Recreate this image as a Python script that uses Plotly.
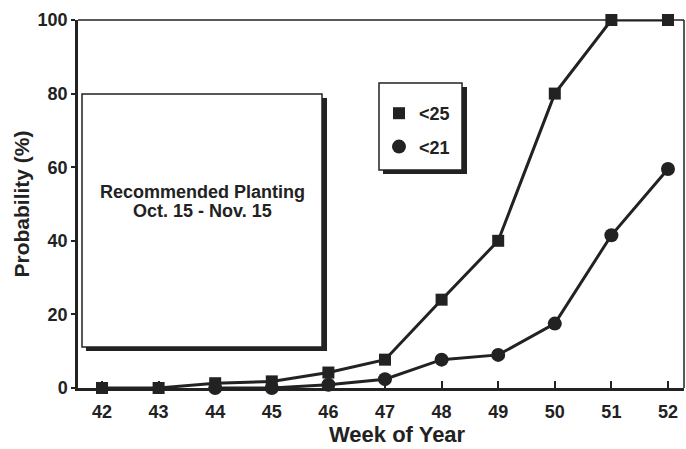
import plotly.graph_objects as go

weeks = [42, 43, 44, 45, 46, 47, 48, 49, 50, 51, 52]
prob_lt25 = [0, 0, 1.3, 1.8, 4.2, 7.7, 24, 40, 80, 100, 100]
prob_lt21 = [None, None, 0, 0, 0.9, 2.4, 7.7, 9, 17.5, 41.5, 59.5]
series_names = ["<25", "<21"]
y_ticks = [0, 20, 40, 60, 80, 100]
x_ticks = weeks

INK = "#222222"
FONT = "Liberation Sans, Arial, sans-serif"

# layout geometry (pixels of the 686x449 canvas)
W, H = 686, 449
L, R, T, B = 78, 2, 20, 61
PW, PH = W - L - R, H - T - B


def px(x):
    return (x - L) / PW


def py(y):
    return (H - B - y) / PH


fig = go.Figure()

fig.add_trace(go.Scatter(
    x=weeks, y=prob_lt25, mode="lines+markers", name=series_names[0],
    line=dict(color=INK, width=3),
    marker=dict(symbol="square", size=12, color=INK),
    cliponaxis=False, showlegend=False,
))
fig.add_trace(go.Scatter(
    x=weeks, y=prob_lt21, mode="lines+markers", name=series_names[1],
    line=dict(color=INK, width=3),
    marker=dict(symbol="circle", size=14, color=INK),
    cliponaxis=False, showlegend=False,
))
# legend-only entries (markers only, as in the original key)
fig.add_trace(go.Scatter(
    x=[None], y=[None], mode="markers", name=series_names[0], legendgroup="a",
    marker=dict(symbol="square", size=12, color=INK),
))
fig.add_trace(go.Scatter(
    x=[None], y=[None], mode="markers", name=series_names[1], legendgroup="b",
    marker=dict(symbol="circle", size=14, color=INK),
))

shapes = []
# frame top / right thin lines
shapes.append(dict(type="line", xref="paper", yref="paper", x0=0, x1=1, y0=1, y1=1,
                   line=dict(color=INK, width=1.5)))
shapes.append(dict(type="line", xref="paper", yref="paper", x0=1, x1=1, y0=0, y1=1,
                   line=dict(color=INK, width=1.5)))
# Recommended planting box with drop shadow
shapes.append(dict(type="rect", xref="paper", yref="paper",
                   x0=px(86), x1=px(327), y0=py(351), y1=py(98),
                   fillcolor=INK, line=dict(width=0)))
shapes.append(dict(type="rect", xref="paper", yref="paper",
                   x0=px(82), x1=px(322), y0=py(347), y1=py(94),
                   fillcolor="white", line=dict(color=INK, width=1.5)))
# legend box with drop shadow
shapes.append(dict(type="rect", xref="paper", yref="paper",
                   x0=px(383), x1=px(467), y0=py(174), y1=py(87),
                   fillcolor=INK, line=dict(width=0)))
shapes.append(dict(type="rect", xref="paper", yref="paper",
                   x0=px(379), x1=px(462), y0=py(170), y1=py(83),
                   fillcolor="white", line=dict(color=INK, width=1.5)))

annotations = [
    dict(text="Recommended Planting", xref="paper", yref="paper",
         x=px(202), y=py(192), xanchor="center", yanchor="middle", showarrow=False,
         font=dict(family=FONT, size=18, color=INK, weight="bold")),
    dict(text="Oct. 15 - Nov. 15", xref="paper", yref="paper",
         x=px(202), y=py(211), xanchor="center", yanchor="middle", showarrow=False,
         font=dict(family=FONT, size=18, color=INK, weight="bold")),
    dict(text="Week of Year", xref="paper", yref="paper",
         x=px(397), y=py(448), xanchor="center", yanchor="bottom", showarrow=False,
         borderpad=0,
         font=dict(family=FONT, size=22, color=INK, weight="bold")),
]

fig.update_layout(
    width=W, height=H,
    margin=dict(l=L, r=R, t=T, b=B),
    paper_bgcolor="white", plot_bgcolor="white",
    font=dict(family=FONT, color=INK, size=18, weight="bold"),
    shapes=shapes, annotations=annotations,
    showlegend=True,
    legend=dict(
        x=px(379), y=py(95), xanchor="left", yanchor="top",
        bgcolor="rgba(0,0,0,0)", borderwidth=0,
        font=dict(family=FONT, size=18, color=INK, weight="bold"),
        traceorder="grouped", tracegroupgap=7,
    ),
)

fig.update_xaxes(
    range=[41.576, 52.283], tickvals=x_ticks, ticktext=[str(w) for w in x_ticks],
    showgrid=False, zeroline=False,
    showline=True, linecolor=INK, linewidth=2.5,
    ticks="inside", ticklen=7, tickwidth=2, tickcolor=INK,
    ticklabelstandoff=6,
    tickfont=dict(family=FONT, size=18, color=INK, weight="bold"),
)
fig.update_yaxes(
    range=[0, 100], tickvals=y_ticks, ticktext=[str(v) for v in y_ticks],
    showgrid=False, zeroline=False,
    showline=True, linecolor=INK, linewidth=2.5,
    ticks="outside", ticklen=4, tickwidth=2, tickcolor=INK,
    tickfont=dict(family=FONT, size=18, color=INK, weight="bold"),
    title=dict(text="Probability (%)", standoff=3,
               font=dict(family=FONT, size=21, color=INK, weight="bold")),
)

fig.write_html("out.html", config={"displayModeBar": False},
               post_script="document.body.style.margin='0';")
